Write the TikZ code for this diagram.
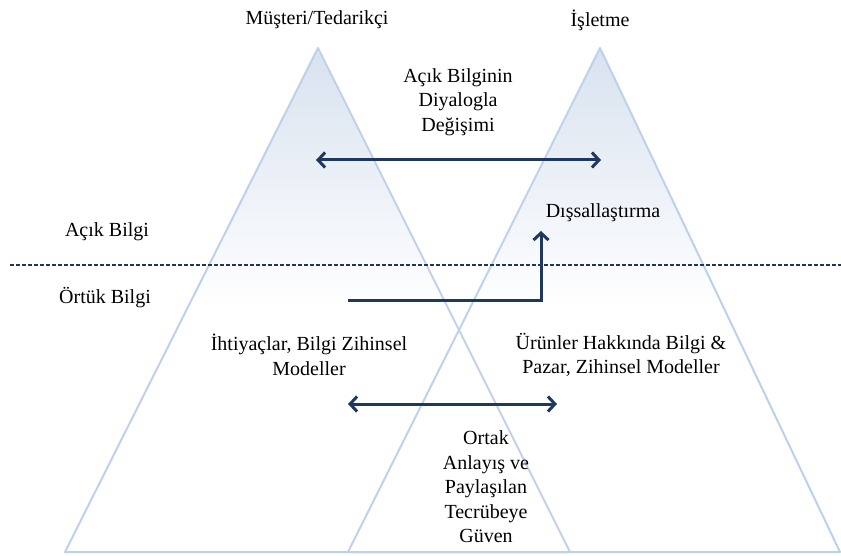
\documentclass[tikz,border=0pt]{standalone}
\usepackage{fontspec}
\setmainfont{Liberation Serif}
\usetikzlibrary{arrows.meta}
\definecolor{navy}{RGB}{31,56,96}
\definecolor{edgeblue}{RGB}{190,209,235}
\definecolor{fillblue}{RGB}{216,226,239}
\tikzset{
  txt/.style={font=\fontsize{20}{24.5}\selectfont, align=center, inner sep=0pt, text=black},
  tri/.style={draw=edgeblue, line width=2pt, line join=round},
  arr/.style={draw=navy, line width=3pt},
  tip/.style={-{Straight Barb[length=7pt,width=15pt,line width=3pt]}},
  dtip/.style={{Straight Barb[length=7pt,width=15pt,line width=3pt]}-{Straight Barb[length=7pt,width=15pt,line width=3pt]}},
  sepline/.style={draw=navy, line width=1.3pt, dash pattern=on 4pt off 2pt}
}
\begin{document}
\begin{tikzpicture}[x=1pt,y=-1pt]
\useasboundingbox (0,0) rectangle (841,556);
% triangle vertices
\coordinate (LA) at (318,48);
\coordinate (LL) at (65,552);
\coordinate (LR) at (570,552);
\coordinate (RA) at (600,48);
\coordinate (RL) at (348,552);
\coordinate (RR) at (840,552);
% gradient fills
\begin{scope}
  \clip (LA) -- (LL) -- (LR) -- cycle;
  \shade[top color=fillblue, bottom color=white] (0,48) rectangle (841,310);
\end{scope}
\begin{scope}
  \clip (RA) -- (RL) -- (RR) -- cycle;
  \shade[top color=fillblue, bottom color=white] (0,48) rectangle (841,310);
\end{scope}
% outlines
\draw[tri] (LA) -- (LL) -- (LR) -- cycle;
\draw[tri] (RA) -- (RL) -- (RR) -- cycle;
% separator
\coordinate (s1) at (10,265);
\coordinate (s2) at (841,265);
\draw[sepline] (s1) -- (s2);
% texts
\node[txt] (cust) at (317,20) {Müşteri/Tedarikçi};
\node[txt] (firm) at (600,20) {İşletme};
\node[txt] (dial) at (458,102) {Açık Bilginin\\Diyalogla\\Değişimi};
\node[txt] (ext) at (603,213) {Dışsallaştırma};
\node[txt] (open) at (107,232) {Açık Bilgi};
\node[txt] (tacit) at (105,298) {Örtük Bilgi};
\node[txt] (needs) at (309,355) {İhtiyaçlar, Bilgi Zihinsel\\Modeller};
\node[txt] (prod) at (621,355) {Ürünler Hakkında Bilgi \&\\Pazar, Zihinsel Modeller};
\node[txt] (trust) at (486,487) {Ortak\\Anlayış ve\\Paylaşılan\\Tecrübeye\\Güven};
% arrows
\coordinate (t1) at (316,160);
\coordinate (t2) at (601,160);
\draw[arr,dtip] (t1) -- (t2);
\coordinate (b1) at (348,404);
\coordinate (b2) at (557,404);
\draw[arr,dtip] (b1) -- (b2);
\coordinate (e1) at (348,300);
\coordinate (e2) at (541,231);
\draw[arr,tip] (e1) -| (e2);
\end{tikzpicture}
\end{document}
